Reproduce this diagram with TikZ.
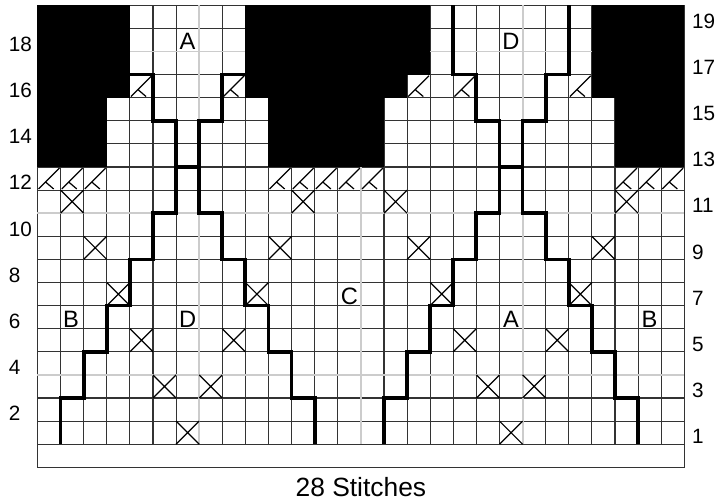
\documentclass[tikz,border=0pt]{standalone}
\usepackage{fontspec}
\setmainfont{Liberation Sans}
\usetikzlibrary{positioning}

\tikzset{
  gridline/.style={black!80, line width=0.8pt},
  guideline/.style={gray!40, line width=1.4pt},
  outline/.style={black, line width=2.8pt},
  symline/.style={black, line width=0.9pt},
  numlabel/.style={anchor=west, inner sep=0pt, font=\fontsize{15.3}{18}\selectfont},
  letter/.style={inner sep=0pt, font=\fontsize{17.5}{20}\selectfont}
}

\begin{document}
\begin{tikzpicture}[x=0.6cm, y=0.6cm]
        \useasboundingbox (-1.623,-2.541) rectangle (29.33,19.23);
        \fill[white] (-1.623,-2.541) rectangle (29.33,19.23);
        % Grid
        \foreach \x in {0,...,28}
          \draw[gridline] (\x,0) -- (\x,19);
        \foreach \y in {0,...,19}
          \draw[gridline] (0,\y) -- (28,\y);
        % Guide lines every 7
        \foreach \x in {7,14,21}
          \draw[guideline] (\x,0) -- (\x,19);
        \foreach \y in {3,10,17}
          \draw[guideline] (0,\y) -- (28,\y);
        % Cast-on strip
        \draw[gridline] (0,0) -- (0,-1) -- (28,-1) -- (28,0);
        % No-stitch blocks
        \foreach \xa/\ya/\xb/\yb in {0/15/4/19, 0/12/3/15, 9/16/17/19, 9/15/16/16,
                                     10/12/15/15, 24/15/28/19, 25/12/28/15}
          \fill[black] (\xa,\ya) rectangle (\xb,\yb);
        % Decreases
        \foreach \c/\r in {5/16, 9/16, 17/16, 19/16, 24/16,
                           1/12, 2/12, 3/12, 11/12, 12/12, 13/12, 14/12, 15/12,
                           26/12, 27/12, 28/12}
          \draw[symline] (\c-0.95,\r-0.95) -- (\c-0.05,\r-0.05)
                         (\c-0.65,\r-0.65) -- (\c-0.3,\r-0.95);
        % Crosses
        \foreach \c/\r in {2/11, 12/11, 16/11, 26/11,
                           3/9, 11/9, 17/9, 25/9,
                           4/7, 10/7, 18/7, 24/7,
                           5/5, 9/5, 19/5, 23/5,
                           6/3, 8/3, 20/3, 22/3,
                           7/1, 21/1}
          \draw[symline] (\c-1,\r-1) -- (\c,\r) (\c-1,\r) -- (\c,\r-1);
        % Left motif outline
        \draw[outline] (4,16) -- (5,16) -- (5,14) -- (6,14) -- (6,10) -- (5,10) -- (5,8)
          -- (4,8) -- (4,6) -- (3,6) -- (3,4) -- (2,4) -- (2,2) -- (1,2) -- (1,0);
        \draw[outline] (9,16) -- (8,16) -- (8,14) -- (7,14) -- (7,10) -- (8,10) -- (8,8)
          -- (9,8) -- (9,6) -- (10,6) -- (10,4) -- (11,4) -- (11,2) -- (12,2) -- (12,0);
        \draw[outline] (6,12) -- (7,12);
        % Right motif outline
        \draw[outline] (18,19) -- (18,16) -- (19,16) -- (19,14) -- (20,14) -- (20,10)
          -- (19,10) -- (19,8) -- (18,8) -- (18,6) -- (17,6) -- (17,4) -- (16,4)
          -- (16,2) -- (15,2) -- (15,0);
        \draw[outline] (23,19) -- (23,16) -- (22,16) -- (22,14) -- (21,14) -- (21,10)
          -- (22,10) -- (22,8) -- (23,8) -- (23,6) -- (24,6) -- (24,4) -- (25,4)
          -- (25,2) -- (26,2) -- (26,0);
        \draw[outline] (20,12) -- (21,12);
        % Row numbers
        \foreach \r in {2,4,...,18}
          \node[numlabel] (left\r) at (-1.25,\r-0.68) {\r};
        \foreach \r in {1,3,...,19}
          \node[numlabel] (right\r) at (28.33,\r-0.68) {\r};
        % Section letters
        \node[letter] (topA)   at (6.5,17.45)  {A};
        \node[letter] (topD)   at (20.5,17.45) {D};
        \node[letter] (leftB)  at (1.45,5.4)   {B};
        \node[letter] (leftD)  at (6.5,5.4)    {D};
        \node[letter] (midC)   at (13.5,6.4)   {C};
        \node[letter] (rightA) at (20.5,5.4)   {A};
        \node[letter] (rightB) at (26.5,5.4)   {B};
        % Width
        \node[font=\fontsize{19.5}{22}\selectfont, inner sep=0pt] (stitches) at (14,-1.84) {28 Stitches};
      \end{tikzpicture}
\end{document}
